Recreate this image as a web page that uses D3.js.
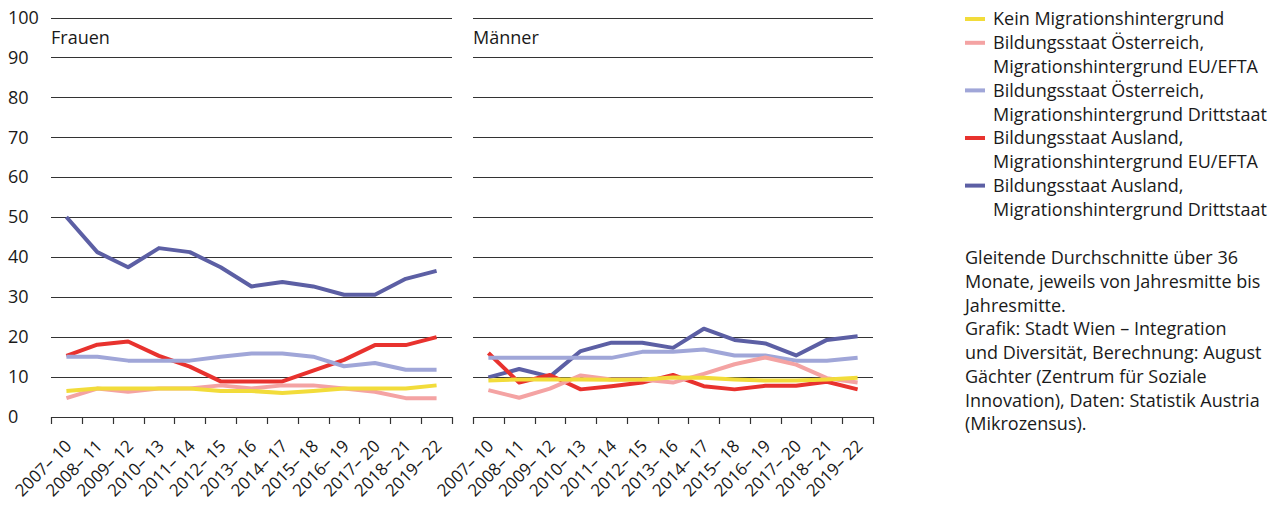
<!DOCTYPE html>
<html><head><meta charset="utf-8">
<script src="https://cdn.jsdelivr.net/npm/d3@7"></script>
<style>
body{margin:0;background:#fff;}
text{font-family:"Open Sans",sans-serif;fill:#1a1a1a;}
</style></head>
<body><svg id="c" width="1276" height="508"></svg>
<script>
const categories = ["2007– 10","2008– 11","2009– 12","2010– 13","2011– 14","2012– 15","2013– 16","2014– 17","2015– 18","2016– 19","2017– 20","2018– 21","2019– 22"];
const yTicks = [0,10,20,30,40,50,60,70,80,90,100];
const seriesNames = ["Kein Migrationshintergrund","Bildungsstaat Österreich, Migrationshintergrund EU/EFTA","Bildungsstaat Österreich, Migrationshintergrund Drittstaat","Bildungsstaat Ausland, Migrationshintergrund EU/EFTA","Bildungsstaat Ausland, Migrationshintergrund Drittstaat"];
const legendLines = [["Kein Migrationshintergrund"],["Bildungsstaat Österreich,","Migrationshintergrund EU/EFTA"],["Bildungsstaat Österreich,","Migrationshintergrund Drittstaat"],["Bildungsstaat Ausland,","Migrationshintergrund EU/EFTA"],["Bildungsstaat Ausland,","Migrationshintergrund Drittstaat"]];
const colors = ["#f2dc3a","#f4a3a3","#a0a6d8","#e8322e","#5c5fa4"];
const panels = ["Frauen","Männer"];
// Frauen
const frauenKein = [6.4,7.0,7.0,7.0,7.0,6.4,6.4,5.9,6.4,7.0,7.0,7.0,7.8];
const frauenOeEU = [4.6,7.0,6.2,7.0,7.0,7.8,7.0,7.8,7.8,7.0,6.2,4.6,4.6];
const frauenOeDritt = [15.0,15.0,14.0,14.0,14.0,15.0,15.8,15.8,15.0,12.6,13.4,11.7,11.7];
const frauenAusEU = [15.2,18.0,18.8,15.2,12.5,8.8,8.8,8.8,11.5,14.2,17.9,17.9,19.9];
const frauenAusDritt = [50.0,41.2,37.4,42.2,41.2,37.4,32.6,33.7,32.6,30.5,30.5,34.5,36.5];
// Männer
const maennerKein = [9.0,9.3,9.3,9.3,9.2,9.3,9.8,9.7,9.3,9.0,9.0,9.3,9.7];
const maennerOeEU = [6.6,4.7,7.0,10.3,9.3,9.3,8.5,10.7,13.1,14.8,13.0,9.6,8.5];
const maennerOeDritt = [14.7,14.7,14.7,14.7,14.7,16.2,16.2,16.8,15.3,15.3,14.0,14.0,14.7];
const maennerAusEU = [15.9,8.5,10.4,6.8,7.6,8.5,10.4,7.6,6.8,7.7,7.7,8.7,6.8];
const maennerAusDritt = [9.8,11.9,10.0,16.4,18.5,18.5,17.2,22.0,19.2,18.3,15.3,19.2,20.1];
const noteLines = ["Gleitende Durchschnitte über 36","Monate, jeweils von Jahresmitte bis","Jahresmitte.","Grafik: Stadt Wien – Integration","und Diversität, Berechnung: August","Gächter (Zentrum für Soziale","Innovation), Daten: Statistik Austria","(Mikrozensus)."];

const panelData = [
  [frauenKein,frauenOeEU,frauenOeDritt,frauenAusEU,frauenAusDritt],
  [maennerKein,maennerOeEU,maennerOeDritt,maennerAusEU,maennerAusDritt]
];
const svg = d3.select("#c");
const y = d3.scaleLinear().domain([0,100]).range([416.5,17.5]);
const panelX = [[51,452],[473,873]];

// y labels
svg.append("g").selectAll("text").data(yTicks).join("text")
  .attr("x",8).attr("y",d=>y(d)).attr("dy","0.35em")
  .style("font-size","18px").text(d=>d);

panelData.forEach((ser,pi)=>{
  const x = d3.scaleBand().domain(categories).range(panelX[pi]);
  const g = svg.append("g");
  g.selectAll("line.grid").data(yTicks.filter(d=>d>0)).join("line")
    .attr("x1",panelX[pi][0]).attr("x2",panelX[pi][1])
    .attr("y1",d=>Math.round(y(d))+0.5).attr("y2",d=>Math.round(y(d))+0.5)
    .attr("stroke","#333").attr("stroke-width",1.2);
  const ax = g.append("g").attr("transform",`translate(0,${Math.round(y(0))})`);
  ax.append("line").attr("x1",panelX[pi][0]).attr("x2",panelX[pi][1]).attr("y1",0.5).attr("y2",0.5).attr("stroke","#333").attr("stroke-width",1.2);
  const bounds = categories.map(c=>x(c)).concat([x.range()[1]]);
  ax.selectAll("line.tick").data(bounds).join("line")
    .attr("x1",d=>Math.round(d)+0.5).attr("x2",d=>Math.round(d)+0.5).attr("y1",0).attr("y2",7)
    .attr("stroke","#333").attr("stroke-width",1.2);
  ax.selectAll("text").data(categories).join("text")
    .attr("transform",d=>`translate(${x(d)+x.bandwidth()/2+2},${26}) rotate(-45)`)
    .attr("text-anchor","end").attr("dy","0.35em").style("font-size","17px").text(d=>d);
  g.append("text").attr("x",panelX[pi][0]).attr("y",38).attr("dy","0.35em").style("font-size","18px").text(panels[pi]);
  const line = d3.line().x((d,i)=>x(categories[i])+x.bandwidth()/2).y(d=>y(d));
  const order = [4,3,2,1,0];
  order.forEach(si=>{
    g.append("path").datum(ser[si]).attr("d",line).attr("fill","none")
      .attr("stroke",colors[si]).attr("stroke-width",4).attr("stroke-linejoin","round");
  });
});

// legend
let ly = 19;
const lg = svg.append("g");
legendLines.forEach((lines,i)=>{
  lg.append("line").attr("x1",965).attr("x2",985).attr("y1",ly).attr("y2",ly).attr("stroke",colors[i]).attr("stroke-width",4);
  lines.forEach((t,j)=>{
    lg.append("text").attr("x",993).attr("y",ly+j*23.8).attr("dy","0.35em").style("font-size","18px").text(t);
  });
  ly += lines.length*23.8;
});
svg.append("g").selectAll("text").data(noteLines).join("text")
  .attr("x",965).attr("y",(d,i)=>258+i*23.7).attr("dy","0.35em").style("font-size","18px").text(d=>d);
</script></body></html>
